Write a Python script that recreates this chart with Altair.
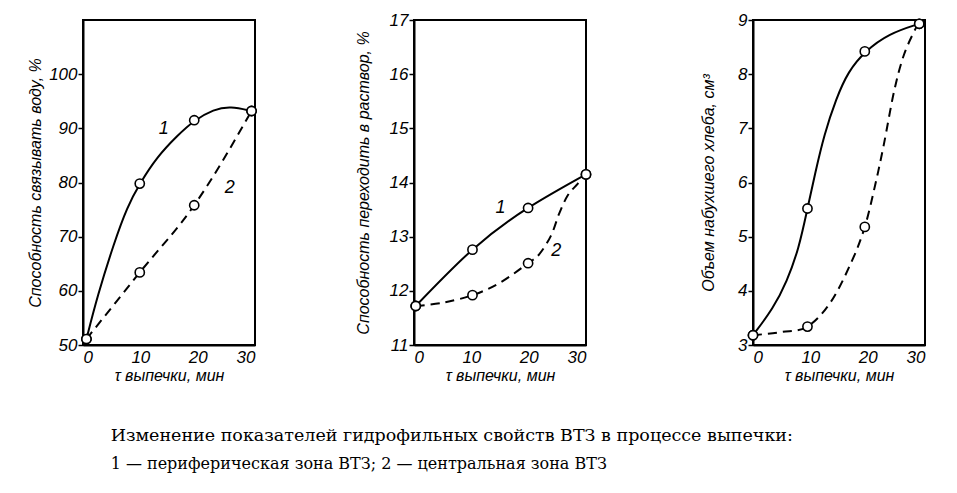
import altair as alt
import pandas as pd

# ---- data ----
# panel 1: water-binding capacity, %
water_mx = [0.6, 9.9, 19.4, 29.4]
water_m1 = [51.1, 79.8, 91.5, 93.2]
water_m2 = [51.1, 63.4, 75.8, 93.2]
water_l1x = [0.6, 0.6, 2.5, 5.4, 7.7, 9.9, 12.9, 16.4, 19.4, 22.8, 25.7, 29.4, 29.4]
water_l1y = [51.1, 51.1, 59.0, 68.8, 75.5, 79.8, 84.7, 88.6, 91.5, 93.5, 94.1, 93.2, 93.2]
water_l2x = water_mx
water_l2y = water_m2

# panel 2: solubility, %
sol_mx = [0.3, 10.2, 19.9, 30]
sol_m1 = [11.72, 12.76, 13.53, 14.15]
sol_m2 = [11.72, 11.92, 12.51, 14.15]
sol_l1x = sol_mx
sol_l1y = sol_m1
sol_l2x = [0.3, 5.0, 10.2, 15.0, 19.9, 21.8, 23.9, 25.3, 26.8, 28.5, 30]
sol_l2y = [11.72, 11.78, 11.92, 12.15, 12.51, 12.67, 13.02, 13.42, 13.76, 13.97, 14.15]

# panel 3: volume of swollen bread, cm3
vol_mx = [0, 9.5, 19.5, 29]
vol_m1 = [3.18, 5.52, 8.42, 8.93]
vol_m2 = [3.18, 3.34, 5.18, 8.93]
vol_l1x = [0, 0, 3.55, 5.9, 8.0, 9.5, 10.9, 12.4, 14.5, 16.6, 19.5, 23.7, 29, 29]
vol_l1y = [3.18, 3.18, 3.68, 4.17, 4.78, 5.52, 6.2, 6.88, 7.55, 8.05, 8.42, 8.75, 8.93, 8.93]
vol_l2x = [0, 5.0, 9.5, 13.6, 17.2, 19.5, 21.3, 22.8, 24.6, 26.3, 28.4, 29]
vol_l2y = [3.18, 3.24, 3.34, 3.8, 4.54, 5.18, 5.95, 6.69, 7.68, 8.35, 8.85, 8.93]

curve_names = ["1", "2"]
lab_water_x = [14.1, 25.6]
lab_water_y = [89.9, 78.9]
lab_sol_x = [15.1, 24.8]
lab_sol_y = [13.53, 12.73]

x_ticks = [0, 10, 20, 30]
water_ticks = [50, 60, 70, 80, 90, 100]
sol_ticks = [11, 12, 13, 14, 15, 16, 17]
vol_ticks = [3, 4, 5, 6, 7, 8, 9]

x_title = "τ выпечки, мин"
caption_1 = "Изменение показателей гидрофильных свойств ВТЗ в процессе выпечки:"
caption_2 = "1 — периферическая зона ВТЗ; 2 — центральная зона ВТЗ"

FONT = "Liberation Sans"


def pairs(xs, ys, s):
    return [{"i": k, "x": a, "y": b, "s": s} for k, (a, b) in enumerate(zip(xs, ys))]


def panel(mx, m1, m2, l1x, l1y, l2x, l2y, labels, ydom, yticks, ytitle, interp, title_pad):
    markers = pd.DataFrame(pairs(mx, m1, "1") + pairs(mx, m2, "2"))
    line1 = pd.DataFrame(pairs(l1x, l1y, "1"))
    line2 = pd.DataFrame(pairs(l2x, l2y, "2"))
    xs = alt.Scale(domain=[0, 30], nice=False, zero=False)
    ys = alt.Scale(domain=ydom, nice=False, zero=False)
    xenc = alt.X("x:Q", scale=xs, title=x_title,
                 axis=alt.Axis(values=x_ticks, format="d", ticks=False,
                               labelPadding=4, titlePadding=2))
    yenc = alt.Y("y:Q", scale=ys, title=ytitle,
                 axis=alt.Axis(values=yticks, format="d", tickSize=5,
                               labelPadding=1, titlePadding=title_pad))
    l1 = alt.Chart(line1).mark_line(
        color="black", strokeWidth=2, interpolate=interp[0]).encode(
        x=xenc, y=yenc, order="i:Q")
    l2 = alt.Chart(line2).mark_line(
        color="black", strokeWidth=2, strokeDash=[9, 6], interpolate=interp[1]).encode(
        x=xenc, y=yenc, order="i:Q")
    pts = alt.Chart(markers).mark_point(shape="circle", filled=True, fill="white",
                                        stroke="black", strokeWidth=1.6, size=85,
                                        opacity=1).encode(x=xenc, y=yenc)
    layers = [l1, l2, pts]
    if labels is not None:
        txt = alt.Chart(labels).mark_text(font=FONT, fontStyle="italic", fontSize=18,
                                          color="black").encode(x=xenc, y=yenc, text="t:N")
        layers.append(txt)
    return alt.layer(*layers).properties(width=172, height=325)


lab_w = pd.DataFrame({"x": lab_water_x, "y": lab_water_y, "t": curve_names})
lab_s = pd.DataFrame({"x": lab_sol_x, "y": lab_sol_y, "t": curve_names})

p1 = panel(water_mx, water_m1, water_m2, water_l1x, water_l1y, water_l2x, water_l2y,
           lab_w, [50, 110], water_ticks, "Способность связывать воду, %",
           ("basis", "monotone"), 5)
p2 = panel(sol_mx, sol_m1, sol_m2, sol_l1x, sol_l1y, sol_l2x, sol_l2y,
           lab_s, [11, 17], sol_ticks, "Способность переходить в раствор, %",
           ("natural", "cardinal"), 18)
p3 = panel(vol_mx, vol_m1, vol_m2, vol_l1x, vol_l1y, vol_l2x, vol_l2y,
           None, [3, 9], vol_ticks, "Объем набухшего хлеба, см³",
           ("basis", "cardinal"), 21)

chart = alt.hconcat(alt.hconcat(p1, p2, spacing=93), p3, spacing=104).properties(
    padding={"left": 18, "top": 2, "right": 5, "bottom": 5},
    title=alt.TitleParams(
        text=caption_1, subtitle=caption_2, orient="bottom", anchor="start",
        font="DejaVu Serif", fontSize=17.5, fontWeight="normal", color="black",
        subtitleFont="DejaVu Serif", subtitleFontSize=16, subtitleColor="black",
        subtitlePadding=11, offset=43, dx=84,
    ),
).configure(background="white").configure_view(
    stroke="black", strokeWidth=2
).configure_axis(
    domainColor="black", domainWidth=2, tickColor="black", tickWidth=1.5,
    labelFont=FONT, labelFontStyle="italic", labelFontSize=17, labelColor="black",
    titleFont=FONT, titleFontStyle="italic", titleFontSize=16, titleFontWeight="normal",
    titleColor="black", grid=False,
)

chart.save("out.html", embed_options={"renderer": "svg", "actions": False})
